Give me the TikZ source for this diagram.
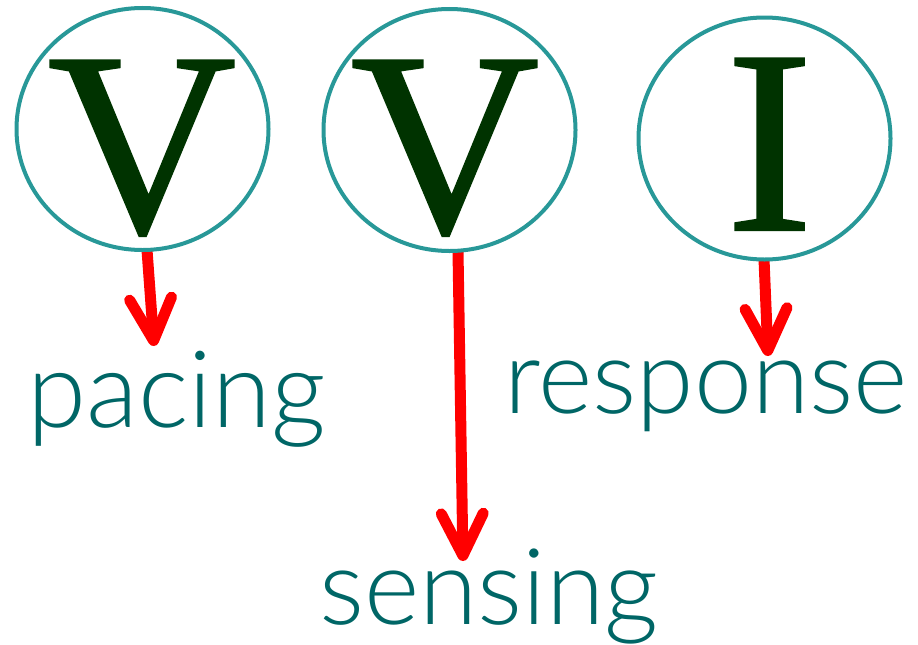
\documentclass[tikz,border=0pt]{standalone}
\usepackage{fontspec}
\usetikzlibrary{shapes.geometric,arrows.meta}
\newfontfamily\letterfont[FakeBold=0.8]{Liberation Serif}
\IfFontExistsTF{Lato Light}{\newfontfamily\labelfont{Lato Light}}{\newfontfamily\labelfont{Carlito}}
\definecolor{ringteal}{RGB}{40,152,152}
\definecolor{letgreen}{RGB}{0,51,0}
\definecolor{labteal}{RGB}{0,102,102}
\definecolor{arrred}{RGB}{255,0,0}
\tikzset{
  ring/.style={ellipse, draw=ringteal, line width=4pt, minimum width=252pt, minimum height=242pt, inner sep=0pt},
  bigletter/.style={anchor=base, inner sep=0pt, text=letgreen, font=\letterfont\fontsize{262}{262}\selectfont},
  lab/.style={anchor=base west, inner sep=0pt, text=labteal},
  redarrow/.style={draw=arrred, line width=11pt, -{Straight Barb[length=42pt,width=42pt,round]}}
}
\begin{document}
\begin{tikzpicture}[x=1pt,y=-1pt]
\useasboundingbox (0,0) rectangle (918,645);
% arrow start/end points
\coordinate (s1) at (147,250);
\coordinate (t1) at (154,346);
\coordinate (s2) at (458,251);
\coordinate (t2) at (463,561);
\coordinate (s3) at (764,259);
\coordinate (t3) at (768,356);
\draw[redarrow] (s1) -- (t1);
\draw[redarrow] (s2) -- (t2);
\draw[redarrow] (s3) -- (t3);
% rings
\node[ring] (c1) at (142.5,129) {};
\node[ring] (c2) at (449.5,130) {};
\node[ring] (c3) at (764.5,138.5) {};
% letters
\node[bigletter] (v1) at (142,232) {V};
\node[bigletter] (v2) at (445,232) {V};
\node[bigletter] (i3) at (769.5,230) {I};
% labels
\node[lab, font=\labelfont\fontsize{107}{107}\selectfont] (pacing) at (27,427) {pacing};
\node[lab, font=\labelfont\fontsize{106}{106}\selectfont] (sensing) at (319,624) {sensing};
\node[lab, font=\labelfont\fontsize{104}{104}\selectfont] (response) at (504,413) {response};
\end{tikzpicture}
\end{document}
